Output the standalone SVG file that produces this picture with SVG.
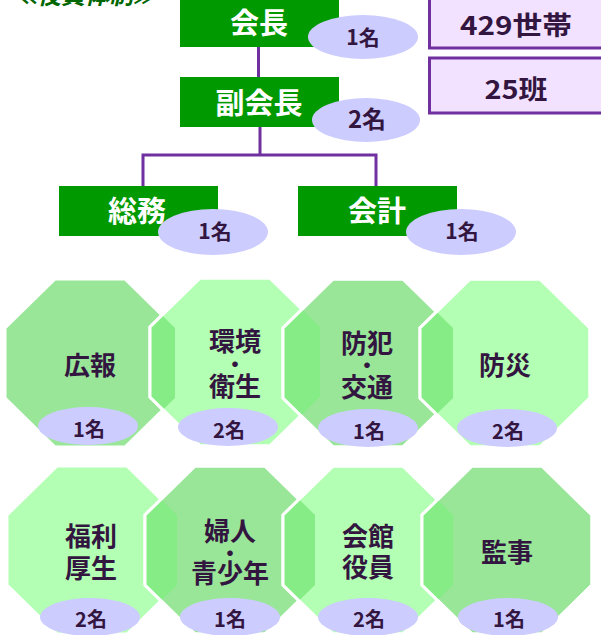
<svg xmlns="http://www.w3.org/2000/svg" xmlns:xlink="http://www.w3.org/1999/xlink" width="601" height="635" viewBox="0 0 601 635">
<style>
.gbox{fill:#009900}
.wt{fill:#ffffff;font-family:"Noto Sans CJK JP","Noto Sans",sans-serif;font-weight:700;font-size:29px;text-anchor:middle;dominant-baseline:central}
.ell{fill:#ccccff}
.nt{fill:#33163f;font-family:"Noto Sans CJK JP","Noto Sans",sans-serif;font-weight:700;text-anchor:middle;dominant-baseline:central}
.cnt{font-size:21px}
.cnt2{font-size:20px}
.lbl{font-size:26px}
.dot{font-size:22px}
.pbox{fill:#f2e2ff;stroke:#7030a0;stroke-width:3}
.mid{fill:#99e699;stroke:#ffffff;stroke-width:3}
.lt{fill:#b3ffb3;stroke:#ffffff;stroke-width:3}
.ov{fill:#86ec86}
.edge{fill:none;stroke:#ffffff;stroke-width:3}
.conn{fill:none;stroke:#7030a0;stroke-width:3}
.title{fill:#006600;font-family:"Noto Sans CJK JP","Noto Sans",sans-serif;font-weight:700;font-size:24px;font-style:italic}
</style>
<defs>
<polygon id="oct" points="-35,0 35,0 85,49 85,119 35,168 -35,168 -85,119 -85,49"/>
<clipPath id="c2"><polygon points="200,278 270,278 320,327 320,397 270,446 200,446 150,397 150,327"/></clipPath>
<clipPath id="c3"><polygon points="333,279 403,279 453,328 453,398 403,447 333,447 283,398 283,328"/></clipPath>
<clipPath id="c4"><polygon points="470,279 540,279 590,328 590,398 540,447 470,447 420,398 420,328"/></clipPath>
<clipPath id="c6"><polygon points="195,466 265,466 315,515 315,585 265,634 195,634 145,585 145,515"/></clipPath>
<clipPath id="c7"><polygon points="333,466 403,466 453,515 453,585 403,634 333,634 283,585 283,515"/></clipPath>
<clipPath id="c8"><polygon points="472,466 542,466 592,515 592,585 542,634 472,634 422,585 422,515"/></clipPath>
</defs>
<rect width="601" height="635" fill="#ffffff"/>
<text class="title" x="13" y="4" textLength="144" lengthAdjust="spacingAndGlyphs">≪役員体制≫</text>

<g id="connectors">
<line class="conn" x1="258.5" y1="47" x2="258.5" y2="77"/>
<line class="conn" x1="260" y1="127" x2="260" y2="155"/>
<polyline class="conn" points="143,186 143,155 376,155 376,186"/>
</g>

<g id="households">
<rect class="pbox" x="429.5" y="-5" width="175" height="53"/>
<text class="nt" x="516" y="23" font-size="26" textLength="112" lengthAdjust="spacingAndGlyphs">429世帯</text>
</g>
<g id="groups">
<rect class="pbox" x="429.5" y="58" width="175" height="55"/>
<text class="nt" x="516" y="87" font-size="26" textLength="63" lengthAdjust="spacingAndGlyphs">25班</text>
</g>

<g id="kaicho">
<rect class="gbox" x="180" y="-3" width="159" height="50"/>
<text class="wt" x="259" y="21" font-size="30">会長</text>
<ellipse class="ell" cx="363" cy="37" rx="55" ry="22"/>
<text class="nt cnt" x="363" y="36">1名</text>
</g>

<g id="fukukaicho">
<rect class="gbox" x="180" y="77" width="159" height="50"/>
<text class="wt" x="259" y="101" font-size="30">副会長</text>
<ellipse class="ell" cx="366" cy="120" rx="54" ry="22"/>
<text class="nt" x="367" y="117" font-size="24">2名</text>
</g>

<g id="somu">
<rect class="gbox" x="59" y="186" width="159" height="50"/>
<text class="wt" x="137" y="209">総務</text>
<ellipse class="ell" cx="213" cy="232" rx="55" ry="23"/>
<text class="nt cnt" x="215" y="230">1名</text>
</g>

<g id="kaikei">
<rect class="gbox" x="298" y="186" width="159" height="50"/>
<text class="wt" x="377" y="209">会計</text>
<ellipse class="ell" cx="461" cy="232" rx="55" ry="23"/>
<text class="nt cnt" x="462" y="230">1名</text>
</g>

<g id="koho">
<use xlink:href="#oct" x="90" y="279" class="mid"/>
<text class="nt lbl" x="90" y="363">広報</text>
<ellipse class="ell" cx="88" cy="426" rx="50" ry="19"/>
<text class="nt cnt2" x="89" y="428">1名</text>
</g>

<g id="kankyo">
<use xlink:href="#oct" x="235" y="278" class="lt"/>
<g clip-path="url(#c2)"><use xlink:href="#oct" x="90" y="279" class="ov"/></g>
<use xlink:href="#oct" x="235" y="278" class="edge"/>
<text class="nt lbl" x="235"><tspan x="235" y="339">環境</tspan><tspan class="dot" x="235" y="362">・</tspan><tspan x="235" y="384">衛生</tspan></text>
<ellipse class="ell" cx="228" cy="427" rx="50" ry="19"/>
<text class="nt cnt2" x="229" y="429">2名</text>
</g>

<g id="bohan">
<use xlink:href="#oct" x="368" y="279" class="mid"/>
<g clip-path="url(#c3)"><use xlink:href="#oct" x="235" y="278" class="ov"/></g>
<use xlink:href="#oct" x="368" y="279" class="edge"/>
<text class="nt lbl" x="367"><tspan x="367" y="341">防犯</tspan><tspan class="dot" x="367" y="363">・</tspan><tspan x="367" y="385">交通</tspan></text>
<ellipse class="ell" cx="368" cy="428" rx="50" ry="19"/>
<text class="nt cnt2" x="369" y="430">1名</text>
</g>

<g id="bosai">
<use xlink:href="#oct" x="505" y="279" class="lt"/>
<g clip-path="url(#c4)"><use xlink:href="#oct" x="368" y="279" class="ov"/></g>
<use xlink:href="#oct" x="505" y="279" class="edge"/>
<text class="nt lbl" x="505" y="363">防災</text>
<ellipse class="ell" cx="507" cy="428" rx="50" ry="19"/>
<text class="nt cnt2" x="508" y="430">2名</text>
</g>

<g id="fukuri">
<use xlink:href="#oct" x="92" y="466" class="lt"/>
<text class="nt lbl" x="91"><tspan x="91" y="534">福利</tspan><tspan x="91" y="566">厚生</tspan></text>
<ellipse class="ell" cx="90" cy="617" rx="50" ry="19"/>
<text class="nt cnt2" x="91" y="618">2名</text>
</g>

<g id="fujin">
<use xlink:href="#oct" x="230" y="466" class="mid"/>
<g clip-path="url(#c6)"><use xlink:href="#oct" x="92" y="466" class="ov"/></g>
<use xlink:href="#oct" x="230" y="466" class="edge"/>
<text class="nt lbl" x="230"><tspan x="230" y="529">婦人</tspan><tspan class="dot" x="230" y="551">・</tspan><tspan x="230" y="571">青少年</tspan></text>
<ellipse class="ell" cx="230" cy="617" rx="50" ry="19"/>
<text class="nt cnt2" x="230" y="618">1名</text>
</g>

<g id="kaikan">
<use xlink:href="#oct" x="368" y="466" class="lt"/>
<g clip-path="url(#c7)"><use xlink:href="#oct" x="230" y="466" class="ov"/></g>
<use xlink:href="#oct" x="368" y="466" class="edge"/>
<text class="nt lbl" x="368"><tspan x="368" y="534">会館</tspan><tspan x="368" y="565">役員</tspan></text>
<ellipse class="ell" cx="368" cy="617" rx="50" ry="19"/>
<text class="nt cnt2" x="369" y="618">2名</text>
</g>

<g id="kanji">
<use xlink:href="#oct" x="507" y="466" class="mid"/>
<g clip-path="url(#c8)"><use xlink:href="#oct" x="368" y="466" class="ov"/></g>
<use xlink:href="#oct" x="507" y="466" class="edge"/>
<text class="nt lbl" x="507" y="550">監事</text>
<ellipse class="ell" cx="508" cy="617" rx="50" ry="19"/>
<text class="nt cnt2" x="509" y="618">1名</text>
</g>
</svg>
